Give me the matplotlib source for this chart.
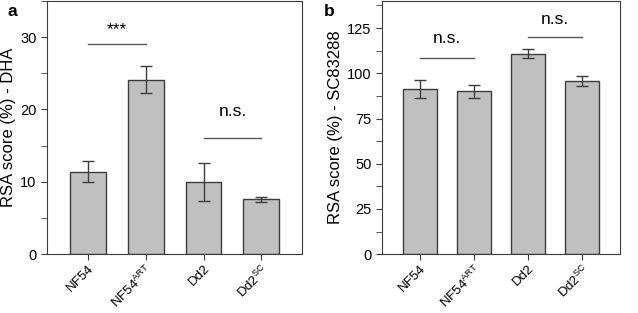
import matplotlib
matplotlib.use('Agg')
from matplotlib import pyplot as plt
from matplotlib.ticker import MultipleLocator

plt.rcParams['font.family'] = ['Liberation Sans', 'DejaVu Sans']
plt.rcParams['mathtext.fontset'] = 'custom'
plt.rcParams['mathtext.rm'] = 'Liberation Sans'
plt.rcParams['mathtext.it'] = 'Liberation Sans'

strains = ['NF54', 'NF54$^{\\rm ART}$', 'Dd2', 'Dd2$^{\\rm SC}$']

dha_mean = [11.4, 24.1, 9.95, 7.6]
dha_err = [1.45, 1.85, 2.65, 0.35]

sc_mean = [91.3, 90.0, 110.9, 95.7]
sc_err = [5.1, 3.4, 2.7, 2.6]

bar_color = '#c0c0c0'
edge_color = '#3c3c3c'


def draw_panel(ax, means, errs, ylim, major, minor, ylabel, brackets):
    x = range(len(means))
    ax.bar(x, means, width=0.62, color=bar_color, edgecolor=edge_color, linewidth=1.0,
           yerr=errs, capsize=4, error_kw=dict(ecolor=edge_color, elinewidth=1.0, capthick=1.0))
    ax.set_xlim(-0.7, 3.7)
    ax.set_ylim(*ylim)
    ax.yaxis.set_major_locator(MultipleLocator(major))
    ax.yaxis.set_minor_locator(MultipleLocator(minor))
    ax.set_xticks(list(x))
    ax.set_xticklabels(strains, rotation=45, ha='right', rotation_mode='anchor', fontsize=9.5)
    ax.tick_params(axis='y', labelsize=10.5, length=4, color=edge_color)
    ax.tick_params(axis='y', which='minor', length=4, color=edge_color)
    ax.tick_params(axis='x', length=4, pad=2, color=edge_color)
    ax.set_ylabel(ylabel, fontsize=12, labelpad=3)
    for sp in ax.spines.values():
        sp.set_color(edge_color)
    for x0, x1, y_line, y_text, label in brackets:
        ax.plot([x0, x1], [y_line, y_line], color='#555555', lw=1.0)
        ax.text((x0 + x1) / 2, y_text, label, ha='center', va='center', fontsize=12.5)


fig = plt.figure(figsize=(6.38, 3.13), dpi=100)
ax_a = fig.add_axes([0.0737, 0.188, 0.3997, 0.809])
ax_b = fig.add_axes([0.5987, 0.188, 0.373, 0.809])

draw_panel(ax_a, dha_mean, dha_err, (0, 35), 10, 5, 'RSA score (%) - DHA',
           [(0, 1, 29.0, 31.0, '***'), (2, 3, 16.0, 19.7, 'n.s.')])
draw_panel(ax_b, sc_mean, sc_err, (0, 140), 25, 12.5, 'RSA score (%) - SC83288',
           [(0, 1, 108.7, 119.0, 'n.s.'), (2, 3, 119.9, 130.0, 'n.s.')])

fig.text(0.012, 0.95, 'a', fontsize=12.5, fontweight='bold')
fig.text(0.507, 0.95, 'b', fontsize=12.5, fontweight='bold')

fig.savefig('out.png', dpi=100)
